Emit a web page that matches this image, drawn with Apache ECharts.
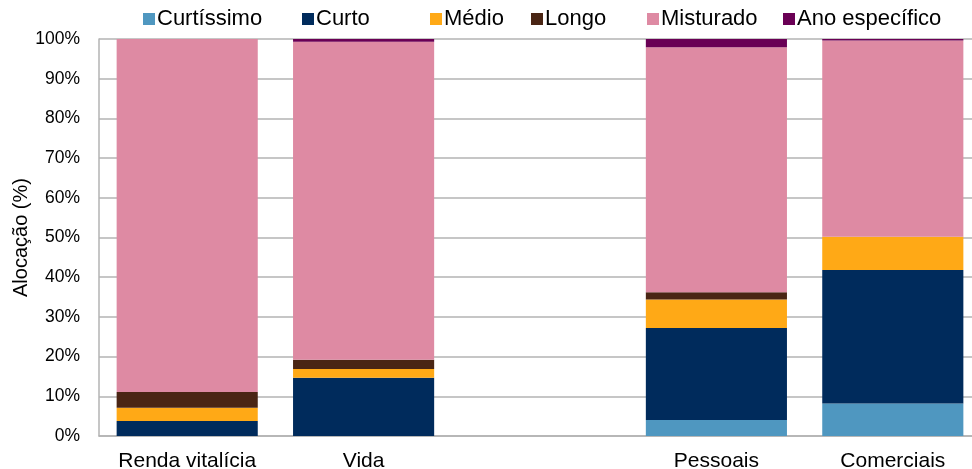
<!DOCTYPE html>
<html>
<head>
<meta charset="utf-8">
<script src="https://cdn.jsdelivr.net/npm/echarts@6/dist/echarts.min.js"></script>
<style>
  html, body { margin: 0; padding: 0; background: #ffffff; }
  #chart { width: 972px; height: 469px; }
</style>
</head>
<body>
<div id="chart"></div>
<script>
// Allocation by maturity bucket, stacked to 100% per product line
const categories = ['Renda vitalícia', 'Vida', '', 'Pessoais', 'Comerciais'];
const yTicks = [0, 10, 20, 30, 40, 50, 60, 70, 80, 90, 100];

const curtissimo    = [0.0, 0.0, null, 4.0, 8.2];
const curto         = [3.8, 14.7, null, 23.2, 33.6];
const medio         = [3.3, 2.2, null, 7.2, 8.4];
const longo         = [4.0, 2.3, null, 1.8, 0.0];
const misturado     = [88.9, 80.1, null, 61.7, 49.4];
const anoEspecifico = [0.0, 0.7, null, 2.1, 0.4];

const seriesNames  = ['Curtíssimo', 'Curto', 'Médio', 'Longo', 'Misturado', 'Ano específico'];
const seriesData   = [curtissimo, curto, medio, longo, misturado, anoEspecifico];
const seriesColors = ['#4f97c0', '#002b5c', '#ffa916', '#4a2514', '#de8aa3', '#6a0055'];
// horizontal start of each legend entry
const legendLefts  = [143, 302, 430, 531, 647, 783];

const font = 'Liberation Sans, Arial, sans-serif';
const chart = echarts.init(document.getElementById('chart'), null, { renderer: 'canvas' });

chart.setOption({
  animation: false,
  color: seriesColors,
  legend: seriesNames.map((name, i) => ({
    top: 8,
    left: legendLefts[i],
    padding: 0,
    icon: 'rect',
    itemWidth: 12,
    itemHeight: 12,
    textStyle: { fontFamily: font, fontSize: 22, color: '#000', padding: [0, 0, 0, -3] },
    data: [name]
  })),
  grid: { left: 99, width: 882, top: 39, bottom: 33, containLabel: false, outerBoundsMode: 'none' },
  xAxis: {
    type: 'category',
    data: categories,
    axisLine: { lineStyle: { color: '#b3b3b3', width: 1.5 } },
    axisTick: { show: false },
    axisLabel: { fontFamily: font, fontSize: 21, color: '#000', margin: 15, interval: 0 }
  },
  yAxis: {
    type: 'value',
    min: yTicks[0],
    max: yTicks[yTicks.length - 1],
    interval: 10,
    name: 'Alocação (%)',
    nameLocation: 'middle',
    nameGap: 68,
    nameMoveOverlap: false,
    nameTextStyle: { fontFamily: font, fontSize: 20, color: '#000' },
    axisLine: { show: true, lineStyle: { color: '#b3b3b3', width: 1.5 } },
    axisTick: { show: false },
    splitLine: { lineStyle: { color: '#b3b3b3', width: 1.5 } },
    axisLabel: { fontFamily: font, fontSize: 17.5, color: '#000', margin: 19, formatter: v => v + '%' }
  },
  series: seriesNames.map((name, i) => ({
    name: name,
    type: 'bar',
    stack: 'total',
    barWidth: '80%',
    data: seriesData[i],
    itemStyle: { color: seriesColors[i] }
  }))
});
</script>
</body>
</html>
